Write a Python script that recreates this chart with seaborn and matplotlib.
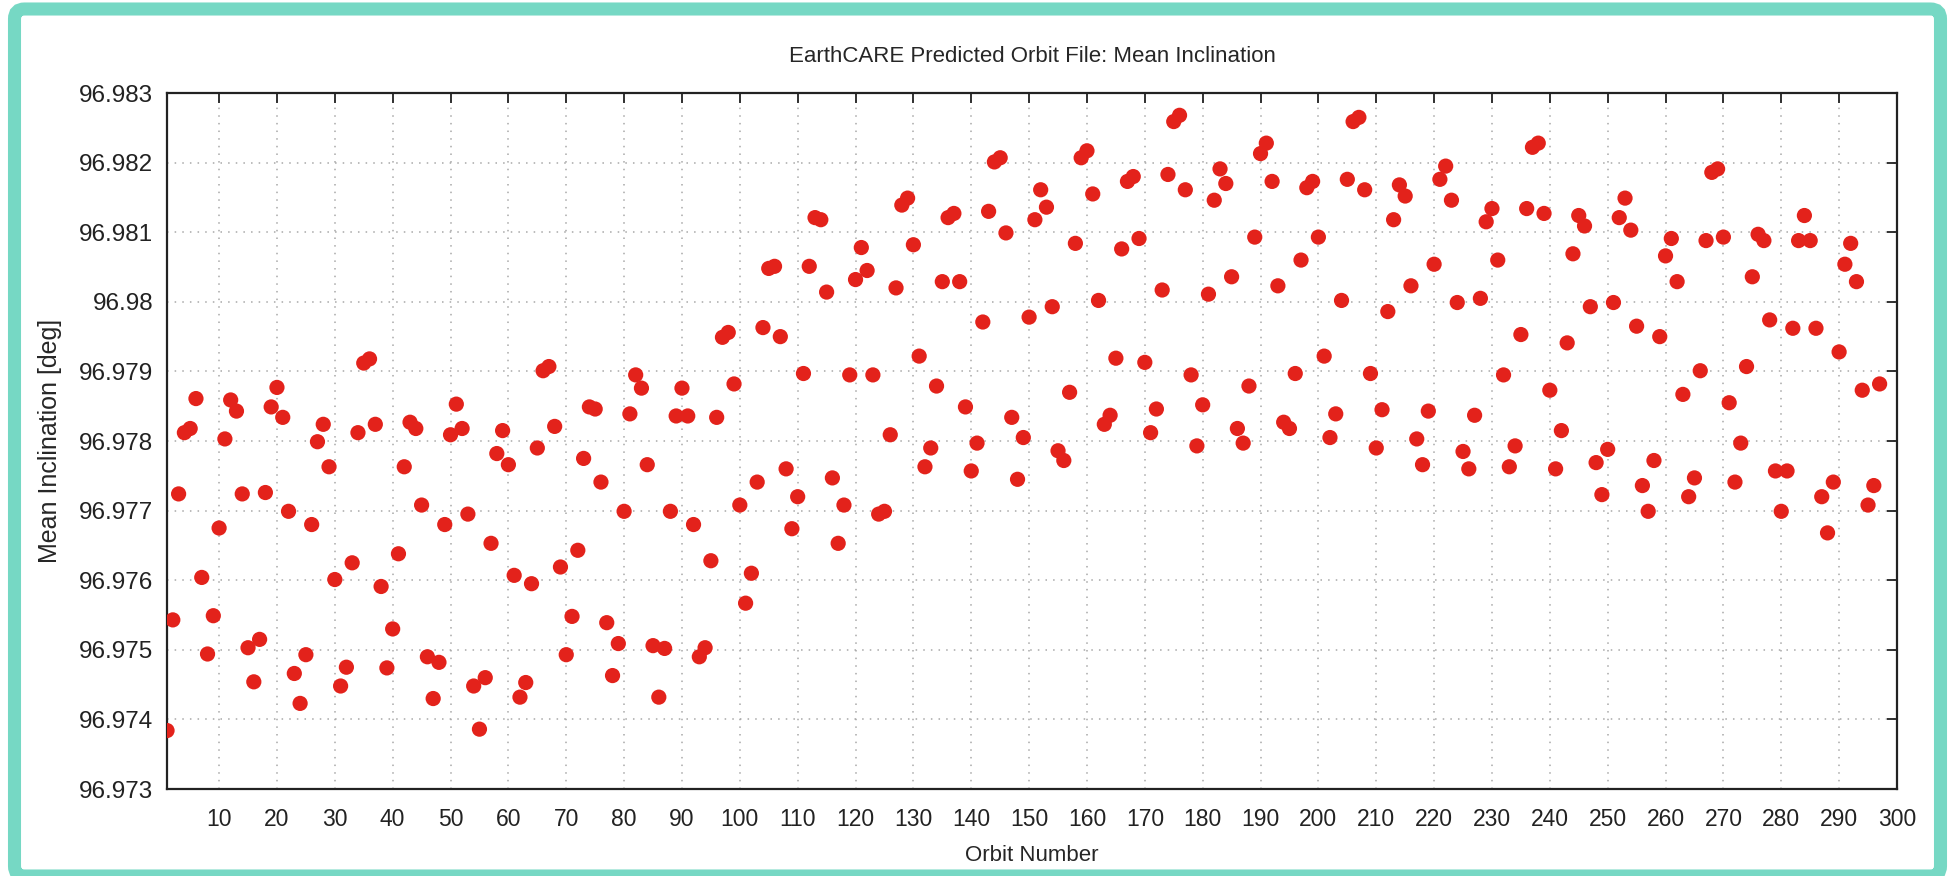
import numpy as np
import pandas as pd
import seaborn as sns
import matplotlib.pyplot as plt
from matplotlib.patches import FancyBboxPatch

# orbit numbers 1..297, one point per orbit
orbit = list(range(1, 298))

# mean inclination [deg]
mean_inclination = [
    96.97384, 96.97543, 96.97724, 96.97812, 96.97818, 96.97861, 96.97604, 96.97494, 96.97549, 96.97675,
    96.97803, 96.97859, 96.97843, 96.97724, 96.97503, 96.97454, 96.97515, 96.97726, 96.97849, 96.97877,
    96.97834, 96.97699, 96.97466, 96.97423, 96.97493, 96.97680, 96.97799, 96.97824, 96.97763, 96.97601,
    96.97448, 96.97475, 96.97625, 96.97812, 96.97912, 96.97918, 96.97824, 96.97591, 96.97474, 96.97530,
    96.97638, 96.97763, 96.97827, 96.97818, 96.97708, 96.97490, 96.97430, 96.97482, 96.97680, 96.97809,
    96.97853, 96.97818, 96.97695, 96.97448, 96.97386, 96.97460, 96.97653, 96.97782, 96.97815, 96.97766,
    96.97607, 96.97432, 96.97453, 96.97595, 96.97790, 96.97901, 96.97907, 96.97821, 96.97619, 96.97493,
    96.97548, 96.97643, 96.97775, 96.97849, 96.97846, 96.97741, 96.97539, 96.97463, 96.97509, 96.97699,
    96.97839, 96.97895, 96.97876, 96.97766, 96.97506, 96.97432, 96.97502, 96.97699, 96.97836, 96.97876,
    96.97836, 96.97680, 96.97490, 96.97503, 96.97628, 96.97834, 96.97949, 96.97956, 96.97882, 96.97708,
    96.97567, 96.97610, 96.97741, 96.97963, 96.98048, 96.98051, 96.97950, 96.97760, 96.97674, 96.97720,
    96.97897, 96.98051, 96.98121, 96.98118, 96.98014, 96.97747, 96.97653, 96.97708, 96.97895, 96.98032,
    96.98078, 96.98045, 96.97895, 96.97695, 96.97699, 96.97809, 96.98020, 96.98139, 96.98149, 96.98082,
    96.97922, 96.97763, 96.97790, 96.97879, 96.98029, 96.98121, 96.98127, 96.98029, 96.97849, 96.97757,
    96.97797, 96.97971, 96.98130, 96.98201, 96.98207, 96.98099, 96.97834, 96.97745, 96.97805, 96.97978,
    96.98118, 96.98161, 96.98136, 96.97993, 96.97786, 96.97772, 96.97870, 96.98084, 96.98207, 96.98217,
    96.98155, 96.98002, 96.97824, 96.97837, 96.97919, 96.98076, 96.98173, 96.98180, 96.98091, 96.97913,
    96.97812, 96.97846, 96.98017, 96.98183, 96.98259, 96.98268, 96.98161, 96.97895, 96.97793, 96.97852,
    96.98011, 96.98146, 96.98191, 96.98170, 96.98036, 96.97818, 96.97797, 96.97879, 96.98093, 96.98213,
    96.98228, 96.98173, 96.98023, 96.97827, 96.97818, 96.97897, 96.98060, 96.98164, 96.98173, 96.98093,
    96.97922, 96.97805, 96.97839, 96.98002, 96.98176, 96.98259, 96.98265, 96.98161, 96.97897, 96.97790,
    96.97845, 96.97986, 96.98118, 96.98168, 96.98152, 96.98023, 96.97803, 96.97766, 96.97843, 96.98054,
    96.98176, 96.98195, 96.98146, 96.97999, 96.97785, 96.97760, 96.97837, 96.98005, 96.98115, 96.98134,
    96.98060, 96.97895, 96.97763, 96.97793, 96.97953, 96.98134, 96.98222, 96.98228, 96.98127, 96.97873,
    96.97760, 96.97815, 96.97941, 96.98069, 96.98124, 96.98109, 96.97993, 96.97769, 96.97723, 96.97788,
    96.97999, 96.98121, 96.98149, 96.98103, 96.97965, 96.97736, 96.97699, 96.97772, 96.97950, 96.98066,
    96.98091, 96.98029, 96.97867, 96.97720, 96.97747, 96.97901, 96.98088, 96.98186, 96.98191, 96.98093,
    96.97855, 96.97741, 96.97797, 96.97907, 96.98036, 96.98097, 96.98088, 96.97974, 96.97757, 96.97699,
    96.97757, 96.97962, 96.98088, 96.98124, 96.98088, 96.97962, 96.97720, 96.97668, 96.97741, 96.97928,
    96.98054, 96.98084, 96.98029, 96.97873, 96.97708, 96.97736, 96.97882,
]

xticks = [10, 20, 30, 40, 50, 60, 70, 80, 90, 100, 110, 120, 130, 140, 150,
          160, 170, 180, 190, 200, 210, 220, 230, 240, 250, 260, 270, 280, 290, 300]
xtick_labels = [str(t) for t in xticks]
yticks = [96.973, 96.974, 96.975, 96.976, 96.977, 96.978, 96.979, 96.980, 96.981, 96.982, 96.983]
ytick_labels = ["96.973", "96.974", "96.975", "96.976", "96.977", "96.978", "96.979",
                "96.98", "96.981", "96.982", "96.983"]

df = pd.DataFrame({"orbit": orbit, "incl": mean_inclination})

sns.set_theme(style="white")
plt.rcParams["font.family"] = ["Liberation Sans", "DejaVu Sans"]

fig = plt.figure(figsize=(19.49, 8.76), dpi=100)
fig.patch.set_facecolor("white")

# teal rounded frame around the whole picture (bottom edge runs off the image)
frame = FancyBboxPatch((0.145, 0.0), 19.26, 8.67,
                       boxstyle="round,pad=0,rounding_size=0.1",
                       transform=fig.dpi_scale_trans, facecolor="none",
                       edgecolor="#76d8c4", linewidth=9.4, zorder=5)
fig.patches.append(frame)

ax = fig.add_axes([0.0857, 0.0993, 0.8876, 0.7945])
sns.scatterplot(data=df, x="orbit", y="incl", color="#e3221b", s=120,
                edgecolor="none", ax=ax, legend=False, zorder=3)

ax.set_xlim(1, 300)
ax.set_ylim(96.973, 96.983)
ax.set_xticks(xticks)
ax.set_xticklabels(xtick_labels)
ax.set_yticks(yticks)
ax.set_yticklabels(ytick_labels)

ax.grid(True, linestyle=(0, (1, 4)), color="#a8a8a8", linewidth=1.1)
for sp in ax.spines.values():
    sp.set_color("#222222")
    sp.set_linewidth(1.6)

ax.tick_params(direction="in", length=7, width=1.3, top=True, right=True,
               colors="#222222", labelsize=16.5)
ax.tick_params(axis="y", labelsize=17.5, pad=10)
ax.tick_params(axis="x", pad=14)

ax.set_title("EarthCARE Predicted Orbit File: Mean Inclination", fontsize=16, pad=22)
ax.set_xlabel("Orbit Number", fontsize=16)
ax.set_ylabel("Mean Inclination [deg]", fontsize=18)
ax.xaxis.set_label_coords(0.5, -0.081)
ax.yaxis.set_label_coords(-0.061, 0.5)

fig.savefig("out.png", dpi=100)
